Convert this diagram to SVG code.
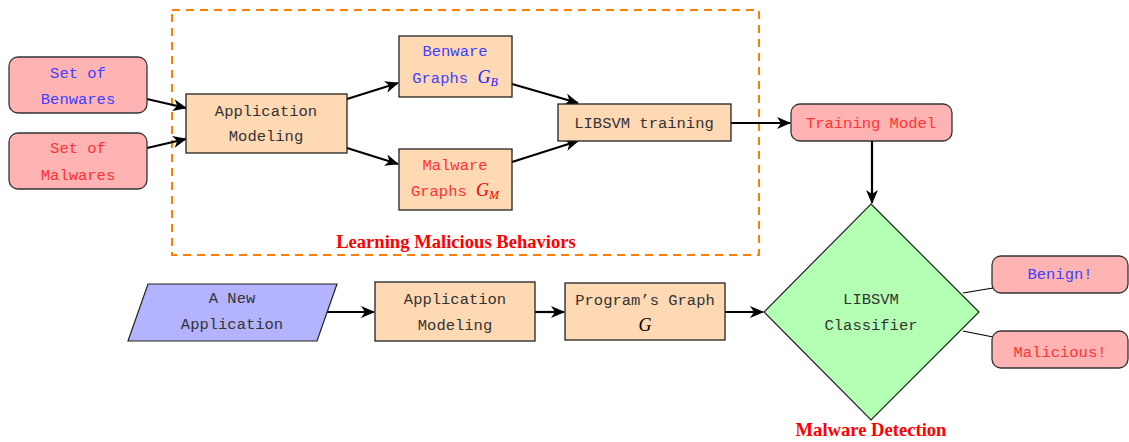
<svg xmlns="http://www.w3.org/2000/svg" width="1129" height="442" viewBox="0 0 1129 442">
<defs>
<marker id="ah" viewBox="0 0 14 12" refX="13" refY="6" markerWidth="14" markerHeight="12" markerUnits="userSpaceOnUse" orient="auto">
<path d="M0,0 L14,6 L0,12 L4,6 Z" fill="#000"/>
</marker>
<style>
.pk{fill:#ffb3b3;stroke:#333;stroke-width:1.3}
.or{fill:#ffd9b3;stroke:#222;stroke-width:1.3}
.t{font-family:"Liberation Mono",monospace;font-size:15.5px;fill:#333;text-anchor:middle}
.b{fill:#4040ff}
.r{fill:#ff3333}
.m{font-family:"Liberation Serif",serif;font-style:italic;font-size:18px}
.lbl{font-family:"Liberation Serif",serif;font-weight:bold;font-size:18.6px;fill:#ff0000;text-anchor:middle}
.c{stroke:#000;stroke-width:2.2;fill:none;marker-end:url(#ah)}
.l{stroke:#000;stroke-width:1.2;fill:none}
</style>
</defs>
<rect x="172" y="10" width="587" height="245" fill="none" stroke="#ff8000" stroke-width="2" stroke-dasharray="8,6"/>
<text class="lbl" x="456" y="248">Learning Malicious Behaviors</text>
<text class="lbl" x="871" y="436">Malware Detection</text>
<g id="connectors">
<path class="c" d="M147,99 L186,108"/>
<path class="c" d="M147,148 L186,139"/>
<path class="c" d="M347,99 L398,83"/>
<path class="c" d="M347,148 L398,164"/>
<path class="c" d="M512,84 L578,103"/>
<path class="c" d="M512,162 L578,141"/>
<path class="c" d="M731,123 L790,123"/>
<path class="c" d="M872,141 L872,203"/>
<path class="c" d="M320,312 L374,312"/>
<path class="c" d="M535,312 L564,312"/>
<path class="c" d="M725,312 L763,312"/>
<path class="l" d="M963,293 L993,288"/>
<path class="l" d="M963,331 L993,337"/>
</g>
<g id="benwares">
<rect class="pk" x="9" y="57" width="138" height="56" rx="9"/>
<text class="t b" x="78" y="78">Set of</text>
<text class="t b" x="78" y="104">Benwares</text>
</g>
<g id="malwares">
<rect class="pk" x="9" y="133" width="138" height="56" rx="9"/>
<text class="t r" x="78" y="153">Set of</text>
<text class="t r" x="78" y="180">Malwares</text>
</g>
<g id="appmodel1">
<rect class="or" x="186" y="94" width="161" height="59"/>
<text class="t" x="266" y="116">Application</text>
<text class="t" x="266" y="141">Modeling</text>
</g>
<g id="benwaregraphs">
<rect class="or" x="399" y="36" width="113" height="61"/>
<text class="t b" x="455" y="56">Benware</text>
<text class="t b" x="455" y="83">Graphs <tspan class="m" fill="#2020ff">G<tspan font-size="12" dy="3">B</tspan></tspan></text>
</g>
<g id="malwaregraphs">
<rect class="or" x="399" y="149" width="113" height="61"/>
<text class="t r" x="455" y="170">Malware</text>
<text class="t r" x="455" y="196">Graphs <tspan class="m" fill="#ee0000">G<tspan font-size="12" dy="3">M</tspan></tspan></text>
</g>
<g id="libsvmtraining">
<rect class="or" x="558" y="104" width="173" height="37"/>
<text class="t" x="644" y="128">LIBSVM training</text>
</g>
<g id="trainingmodel">
<rect class="pk" x="791" y="104" width="161" height="37" rx="9"/>
<text class="t r" x="871" y="128">Training Model</text>
</g>
<g id="classifier">
<polygon points="871,204 979,312 871,420 764,312" fill="#b3ffb3" stroke="#222" stroke-width="1.2"/>
<text class="t" x="871" y="304">LIBSVM</text>
<text class="t" x="871" y="330">Classifier</text>
</g>
<g id="benign">
<rect class="pk" x="992" y="256" width="136" height="37" rx="9"/>
<text class="t b" x="1060" y="279">Benign!</text>
</g>
<g id="malicious">
<rect class="pk" x="992" y="331" width="136" height="37" rx="9"/>
<text class="t r" x="1060" y="357">Malicious!</text>
</g>
<g id="newapp">
<polygon points="148,284 337,284 317,341 128,341" fill="#b3b3ff" stroke="#222" stroke-width="1.2"/>
<text class="t" x="232" y="303">A New</text>
<text class="t" x="232" y="329">Application</text>
</g>
<g id="appmodel2">
<rect class="or" x="375" y="282" width="160" height="59"/>
<text class="t" x="455" y="304">Application</text>
<text class="t" x="455" y="330">Modeling</text>
</g>
<g id="programgraph">
<rect class="or" x="565" y="283" width="160" height="57"/>
<text class="t" x="645" y="305">Program’s Graph</text>
<text class="m" x="645" y="331" text-anchor="middle" fill="#000">G</text>
</g>
</svg>
